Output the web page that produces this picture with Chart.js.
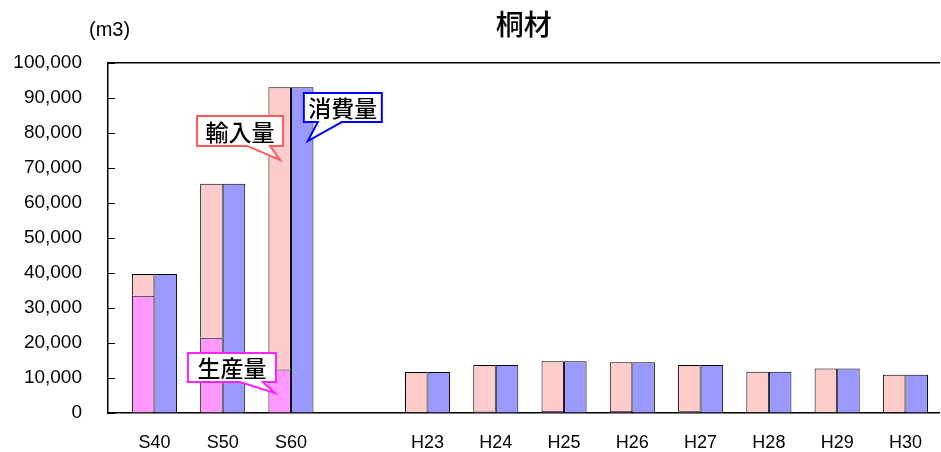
<!DOCTYPE html>
<html>
<head>
<meta charset="utf-8">
<script src="https://cdn.jsdelivr.net/npm/chart.js@4"></script>
<style>
  html, body { margin: 0; padding: 0; background: #fff; overflow: hidden; }
  #wrap { width: 941px; height: 458px; position: relative; }
</style>
</head>
<body>
<div id="wrap"><canvas id="grafico"></canvas></div>
<script>
// categorie (lo slot vuoto separa S60 da H23)
const categorie = ['S40', 'S50', 'S60', '', 'H23', 'H24', 'H25', 'H26', 'H27', 'H28', 'H29', 'H30'];
// valori (m3)
const produzione = [33500, 21500, 12400, null, 300, 400, 600, 600, 500, 300, 300, 200];
const importazione = [6200, 44000, 80700, null, 11400, 13300, 14200, 13900, 13200, 11500, 12400, 10700];
const consumo = [39700, 65500, 93100, null, 11700, 13700, 14800, 14500, 13700, 11800, 12700, 10900];
const yTicks = [0, 10000, 20000, 30000, 40000, 50000, 60000, 70000, 80000, 90000, 100000];

const toPoints = arr => arr.map((v, i) => ({ x: i, y: v })).filter(p => p.y !== null);

// fumetti: punta in coordinate dati, riquadro relativo alla punta (px)
const fumetti = [
  { testo: '輸入量', colore: '#FF5B5B', punta: [1.84, 72300], box: [-83, -44, 86, 30], base: [-33, -10] },
  { testo: '消費量', colore: '#0000FF', punta: [2.247, 77700], box: [-4, -48, 78, 29], base: [10, 34] },
  { testo: '生産量', colore: '#FF22FF', punta: [1.765, 5700], box: [-87, -40, 88, 29], base: [-35, -12] }
];

const pluginExtra = {
  id: 'extra',
  afterDraw(chart) {
    const { ctx, chartArea, scales } = chart;
    ctx.save();
    // titolo
    ctx.fillStyle = '#000';
    ctx.font = '500 28px "Noto Sans CJK JP"';
    ctx.textAlign = 'center';
    ctx.textBaseline = 'middle';
    ctx.fillText('桐材', (chartArea.left + chartArea.right) / 2, 24);
    // unità
    ctx.font = '20px "Liberation Sans"';
    ctx.textAlign = 'left';
    ctx.fillText('(m3)', 89, 30);
    // fumetti
    fumetti.forEach(f => {
      const tx = scales.x.getPixelForValue(f.punta[0]);
      const ty = scales.y.getPixelForValue(f.punta[1]);
      const x0 = tx + f.box[0], y0 = ty + f.box[1], w = f.box[2], h = f.box[3];
      ctx.beginPath();
      ctx.moveTo(x0, y0);
      ctx.lineTo(x0 + w, y0);
      ctx.lineTo(x0 + w, y0 + h);
      ctx.lineTo(tx + f.base[1], y0 + h);
      ctx.lineTo(tx, ty);
      ctx.lineTo(tx + f.base[0], y0 + h);
      ctx.lineTo(x0, y0 + h);
      ctx.closePath();
      ctx.fillStyle = '#fff';
      ctx.fill();
      ctx.lineWidth = 2;
      ctx.strokeStyle = f.colore;
      ctx.stroke();
      ctx.fillStyle = '#000';
      ctx.font = '500 23px "Noto Sans CJK JP"';
      ctx.textAlign = 'center';
      ctx.textBaseline = 'middle';
      ctx.fillText(f.testo, x0 + w / 2, y0 + h / 2 + 1);
    });
    ctx.restore();
  }
};

new Chart(document.getElementById('grafico'), {
  type: 'bar',
  data: {
    datasets: [
      { label: '生産量', data: toPoints(produzione), stack: 'a', backgroundColor: '#FF99FF', borderColor: '#000', borderWidth: 1 },
      { label: '輸入量', data: toPoints(importazione), stack: 'a', backgroundColor: '#FFCCCC', borderColor: '#000', borderWidth: 1 },
      { label: '消費量', data: toPoints(consumo), stack: 'b', backgroundColor: '#9999FF', borderColor: '#000', borderWidth: 1 }
    ]
  },
  options: {
    responsive: true,
    maintainAspectRatio: false,
    animation: false,
    categoryPercentage: 0.66,
    barPercentage: 1,
    layout: { padding: { top: 63, right: 0, left: 0, bottom: 0 } },
    plugins: { legend: { display: false }, tooltip: { enabled: false } },
    scales: {
      x: {
        type: 'linear',
        offset: false,
        min: -0.68,
        max: 11.5,
        grid: { display: false, drawTicks: false },
        border: { color: '#000', width: 1.5 },
        afterFit: s => { s.height = 45; },
        afterBuildTicks: s => { s.ticks = categorie.map((c, i) => ({ value: i })); },
        ticks: {
          autoSkip: false,
          maxRotation: 0,
          padding: 19,
          color: '#000',
          font: { family: 'Liberation Sans', size: 18 },
          callback: v => categorie[v] || ''
        }
      },
      x2: {
        type: 'linear',
        position: 'top',
        offset: false,
        min: 0, max: 1,
        grid: { display: false, drawTicks: false },
        border: { color: '#000', width: 1.5 },
        ticks: { display: false },
        afterFit: s => { s.height = 0; }
      },
      y: {
        stacked: true,
        min: 0,
        max: 100000,
        afterFit: s => { s.width = 108; },
        afterBuildTicks: s => { s.ticks = yTicks.map(v => ({ value: v })); },
        grid: { drawOnChartArea: false, tickLength: -7, color: '#000' },
        border: { color: '#000', width: 1.5 },
        ticks: {
          padding: 33,
          color: '#000',
          font: { family: 'Liberation Sans', size: 19 },
          callback: v => v.toLocaleString('en-US')
        }
      }
    }
  },
  plugins: [pluginExtra]
});
</script>
</body>
</html>
